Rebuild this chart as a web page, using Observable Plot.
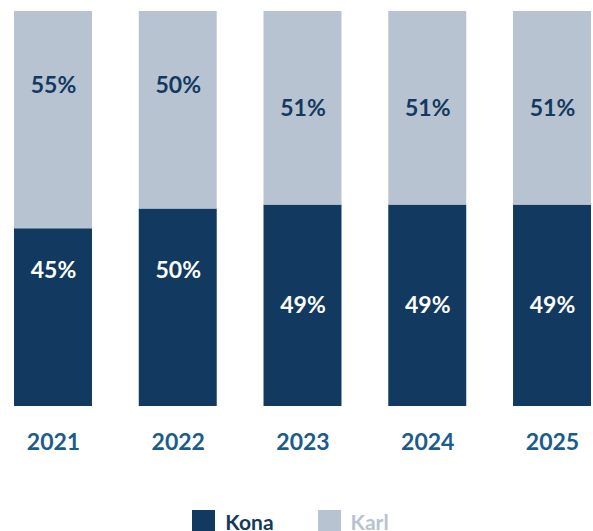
<!DOCTYPE html>
<html>
<head>
<meta charset="utf-8">
<script src="https://cdn.jsdelivr.net/npm/d3@7"></script>
<script src="https://cdn.jsdelivr.net/npm/@observablehq/plot@0.6"></script>
<style>
  html, body { margin: 0; padding: 0; background: #fff; }
  body { width: 593px; height: 531px; overflow: hidden; font-family: Lato, "Open Sans", sans-serif; }
  .legend { display: flex; justify-content: center; align-items: center; gap: 44px; margin-top: 39px; padding-right: 12px; }
  .item { display: flex; align-items: center; gap: 10px; font-weight: 700; font-size: 21px; }
  .sw { width: 23px; height: 23px; display: inline-block; }
</style>
</head>
<body>
<div id="chart"></div>
<div class="legend" id="legend"></div>
<script>
const years = ["2021", "2022", "2023", "2024", "2025"];
const series = ["Kona", "Karl"];
// bar shares as drawn
const konaShare = [45, 50, 51, 51, 51];
const karlShare = [55, 50, 49, 49, 49];
// printed labels
const konaLabels = ["45%", "50%", "49%", "49%", "49%"];
const karlLabels = ["55%", "50%", "51%", "51%", "51%"];
// where each printed label sits, in percent of the bar height
const konaLabelAt = [34.4, 34.4, 25.6, 25.6, 25.6];
const karlLabelAt = [81.3, 81.3, 75.4, 75.4, 75.4];
const colors = ["#12395f", "#b8c3d1"];
const textColors = ["#ffffff", "#12395f"];
const yearColor = "#1a5c8c";

const data = [
  ...years.map((y, i) => ({year: y, series: "Kona", value: konaShare[i], label: konaLabels[i], at: konaLabelAt[i]})),
  ...years.map((y, i) => ({year: y, series: "Karl", value: karlShare[i], label: karlLabels[i], at: karlLabelAt[i]}))
];

const chart = Plot.plot({
  width: 593,
  height: 470,
  marginTop: 11,
  marginBottom: 64,
  marginLeft: 14,
  marginRight: 2,
  style: {fontFamily: "Lato, sans-serif", background: "#fff"},
  x: {domain: years, paddingInner: 0.375, paddingOuter: 0, round: false, label: null},
  y: {domain: [0, 100], axis: null},
  color: {domain: series, range: colors},
  marks: [
    Plot.barY(data, Plot.stackY({x: "year", y: "value", z: "series", fill: "series"})),
    Plot.text(data, {
      x: "year", y: "at", text: "label",
      fill: d => textColors[series.indexOf(d.series)],
      fontSize: 23, fontWeight: 700
    }),
    Plot.axisX({tickSize: 0, tickPadding: 27, fontSize: 23, fontWeight: 700, color: yearColor, label: null})
  ]
});
document.getElementById("chart").appendChild(chart);

const legend = document.getElementById("legend");
series.forEach((s, i) => {
  const item = document.createElement("div");
  item.className = "item";
  item.style.color = colors[i];
  const sw = document.createElement("span");
  sw.className = "sw";
  sw.style.background = colors[i];
  item.appendChild(sw);
  item.appendChild(document.createTextNode(s));
  legend.appendChild(item);
});
</script>
</body>
</html>
